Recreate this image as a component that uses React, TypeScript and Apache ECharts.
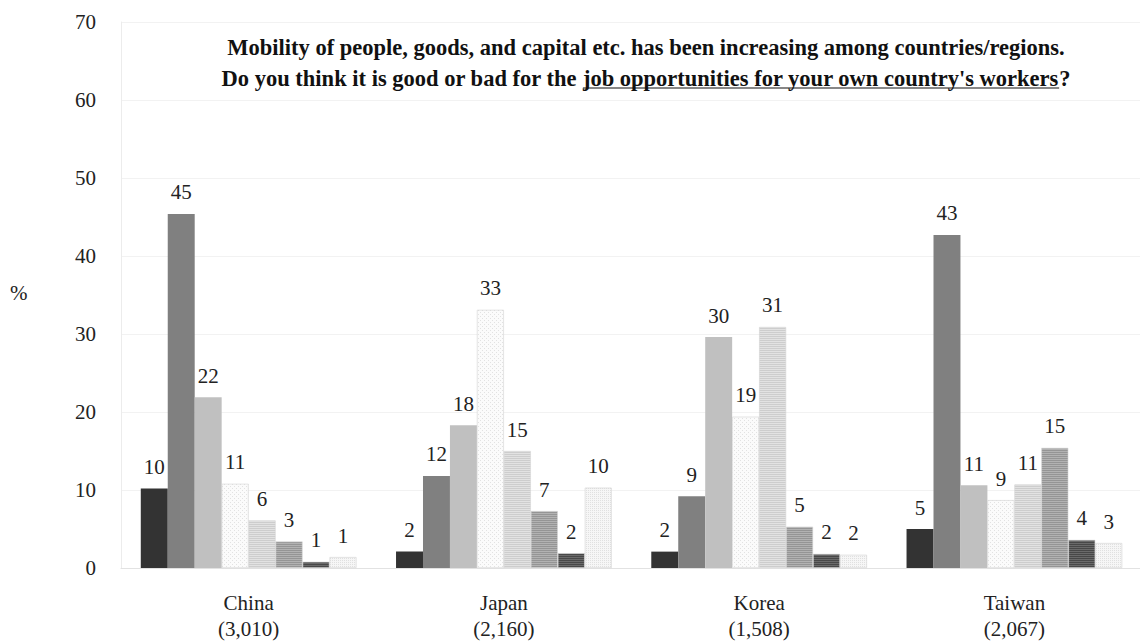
import React, { useEffect, useRef } from "react";
import * as echarts from "echarts";

const categories = ["China", "Japan", "Korea", "Taiwan"];
const sampleSizes = ["(3,010)", "(2,160)", "(1,508)", "(2,067)"];
const yTicks = [0, 10, 20, 30, 40, 50, 60, 70];

// One array per country, 8 response options each (in %)
const china = [10.2, 45.4, 21.9, 10.8, 6.1, 3.4, 0.8, 1.4];
const japan = [2.1, 11.8, 18.3, 33.1, 15.0, 7.3, 1.9, 10.3];
const korea = [2.1, 9.2, 29.6, 19.4, 30.9, 5.3, 1.8, 1.7];
const taiwan = [5.0, 42.7, 10.6, 8.7, 10.7, 15.4, 3.6, 3.2];
const countryValues = [china, japan, korea, taiwan];

const optionNames = ["Option 1", "Option 2", "Option 3", "Option 4", "Option 5", "Option 6", "Option 7", "Option 8"];

const titleLine1 = "Mobility of people, goods, and capital etc. has been increasing among countries/regions.";
const titleLine2a = "Do you think it is good or bad for the ";
const titleLine2b = "job opportunities for your own country's workers";
const titleLine2c = "?";

const FONT = "Liberation Serif";

function makePattern(kind: string): any {
  const c = document.createElement("canvas");
  const size = 4;
  c.width = size;
  c.height = size;
  const g = c.getContext("2d")!;
  const fill = (col: string, x: number, y: number, w: number, h: number) => {
    g.fillStyle = col;
    g.fillRect(x, y, w, h);
  };
  if (kind === "dots") {
    fill("#fbfbfb", 0, 0, 4, 4);
    fill("#e2e2e2", 0, 0, 1, 1);
    fill("#e2e2e2", 2, 2, 1, 1);
  } else if (kind === "grid") {
    fill("#f6f6f6", 0, 0, 4, 4);
    fill("#e0e0e0", 0, 0, 1, 1);
    fill("#e0e0e0", 2, 0, 1, 1);
    fill("#e0e0e0", 0, 2, 1, 1);
    fill("#e0e0e0", 2, 2, 1, 1);
  } else if (kind === "stripeLight") {
    fill("#e2e2e2", 0, 0, 4, 4);
    fill("#cdcdcd", 0, 0, 4, 1);
    fill("#cdcdcd", 0, 2, 4, 1);
  } else if (kind === "stripeMid") {
    fill("#b2b2b2", 0, 0, 4, 4);
    fill("#959595", 0, 0, 4, 1);
    fill("#959595", 0, 2, 4, 1);
  } else if (kind === "stripeDark") {
    fill("#6a6a6a", 0, 0, 4, 4);
    fill("#484848", 0, 0, 4, 1);
    fill("#484848", 0, 2, 4, 1);
  }
  return { image: c.toDataURL(), repeat: "repeat" };
}

export default function App() {
  const ref = useRef<HTMLDivElement>(null);

  useEffect(() => {
    document.body.style.margin = "0";
    if (!ref.current) return;
    const chart = echarts.init(ref.current, undefined, { renderer: "svg" });

    const fills: any[] = [
      "#333333",
      "#808080",
      "#c0c0c0",
      makePattern("dots"),
      makePattern("stripeLight"),
      makePattern("stripeMid"),
      makePattern("stripeDark"),
      makePattern("grid"),
    ];

    const series = optionNames.map((name, i) => ({
      name,
      type: "bar",
      barGap: "0%",
      barCategoryGap: "15.5%",
      data: countryValues.map((arr) => arr[i]),
      itemStyle: {
        color: fills[i],
        borderColor: i < 3 ? "transparent" : "#d4d4d4",
        borderWidth: i < 3 ? 0 : 0.6,
      },
      label: {
        show: true,
        position: "top",
        distance: 11,
        fontFamily: FONT,
        fontSize: 21,
        color: "#222",
        formatter: (p: any) => String(Math.round(p.value)),
      },
    }));

    // Title layout with measured widths (for the underline segment)
    const ctx = document.createElement("canvas").getContext("2d")!;
    ctx.font = `bold 100px "Liberation Serif"`;
    const w1 = ctx.measureText(titleLine1).width;
    const fs = Math.max(16, Math.min(24, Math.round((845 / w1) * 100 * 2) / 2));
    ctx.font = `bold ${fs}px "Liberation Serif"`;
    const wa = ctx.measureText(titleLine2a).width;
    const wb = ctx.measureText(titleLine2b).width;
    const wc = ctx.measureText(titleLine2c).width;
    const centerX = 646;
    const startX = centerX - (wa + wb + wc) / 2;
    const line1Y = 47;
    const line2Y = 78;
    const tStyle = { fontFamily: FONT, fontWeight: "bold", fontSize: fs, fill: "#111", textVerticalAlign: "middle" };

    chart.setOption({
      animation: false,
      backgroundColor: "#ffffff",
      grid: { left: 121, top: 22, width: 1021, height: 546, containLabel: false, outerBoundsMode: "none" },
      xAxis: {
        type: "category",
        data: categories,
        axisTick: { show: false },
        axisLine: { show: true, lineStyle: { color: "#e2e2e2", width: 1 } },
        axisLabel: {
          fontFamily: FONT,
          fontSize: 21,
          color: "#222",
          lineHeight: 26,
          margin: 22,
          formatter: (v: string) => {
            const i = categories.indexOf(v);
            return v + "\n" + sampleSizes[i];
          },
        },
      },
      yAxis: {
        type: "value",
        min: yTicks[0],
        max: yTicks[yTicks.length - 1],
        interval: 10,
        axisLine: { show: true, lineStyle: { color: "#ececec" } },
        axisTick: { show: false },
        splitLine: { show: true, lineStyle: { color: "#f2f2f2", width: 1 } },
        axisLabel: { fontFamily: FONT, fontSize: 21, color: "#222", margin: 25 },
      },
      series,
      graphic: [
        {
          type: "text",
          left: 10,
          top: 282,
          style: { text: "%", fontFamily: FONT, fontSize: 21, fill: "#222" },
        },
        {
          type: "text",
          x: centerX,
          y: line1Y,
          style: { ...tStyle, text: titleLine1, textAlign: "center" },
        },
        {
          type: "text",
          x: startX,
          y: line2Y,
          style: { ...tStyle, text: titleLine2a, textAlign: "left" },
        },
        {
          type: "text",
          x: startX + wa,
          y: line2Y,
          style: { ...tStyle, text: titleLine2b, textAlign: "left" },
        },
        {
          type: "text",
          x: startX + wa + wb,
          y: line2Y,
          style: { ...tStyle, text: titleLine2c, textAlign: "left" },
        },
        {
          type: "line",
          shape: { x1: startX + wa, y1: line2Y + 10, x2: startX + wa + wb, y2: line2Y + 10 },
          style: { stroke: "#111", lineWidth: 1.2 },
        },
      ],
    });

    return () => chart.dispose();
  }, []);

  return <div ref={ref} style={{ width: 1140, height: 642 }} />;
}
